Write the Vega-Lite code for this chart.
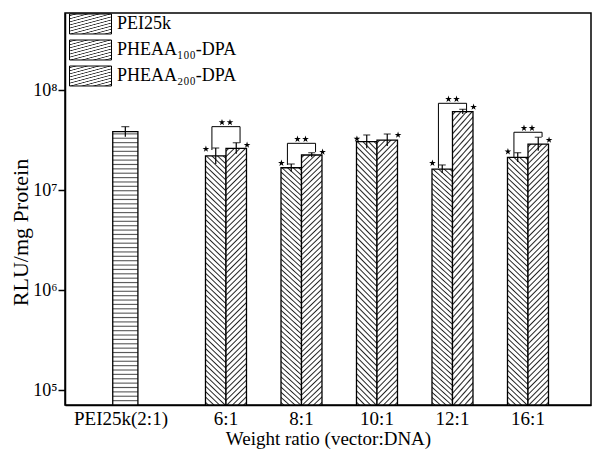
{
  "$schema": "https://vega.github.io/schema/vega-lite/v6.json",
  "width": 526,
  "height": 392,
  "autosize": "none",
  "padding": {"left": 65, "top": 13, "right": 1, "bottom": 46},
  "background": "white",
  "config": {
    "font": "Liberation Serif",
    "view": {"stroke": "black", "strokeWidth": 1.5},
    "axis": {"grid": false, "labelColor": "black", "titleColor": "black", "domainColor": "black", "domainWidth": 1.5, "tickColor": "black", "labelFont": "Liberation Serif", "titleFont": "Liberation Serif", "titleFontWeight": "normal"}
  },
  "resolve": {"scale": {"xOffset": "independent"}},
  "datasets": {
    "bars": [
      {"cat": "PEI25k(2:1)", "series": "PEI25k", "v": 38300000, "lo": 34100000, "hi": 43000000, "star": null},
      {"cat": "6:1", "series": "PHEAA₁₀₀-DPA", "v": 21900000, "lo": 18200000, "hi": 26300000, "star": 25700000},
      {"cat": "6:1", "series": "PHEAA₂₀₀-DPA", "v": 26100000, "lo": 23000000, "hi": 29700000, "star": 28200000},
      {"cat": "8:1", "series": "PHEAA₁₀₀-DPA", "v": 16700000, "lo": 15300000, "hi": 18200000, "star": 18600000},
      {"cat": "8:1", "series": "PHEAA₂₀₀-DPA", "v": 22400000, "lo": 21200000, "hi": 23600000, "star": 24000000},
      {"cat": "10:1", "series": "PHEAA₁₀₀-DPA", "v": 30400000, "lo": 26100000, "hi": 35500000, "star": 32400000},
      {"cat": "10:1", "series": "PHEAA₂₀₀-DPA", "v": 31600000, "lo": 27500000, "hi": 36300000, "star": 35500000},
      {"cat": "12:1", "series": "PHEAA₁₀₀-DPA", "v": 16200000, "lo": 14800000, "hi": 17800000, "star": 18600000},
      {"cat": "12:1", "series": "PHEAA₂₀₀-DPA", "v": 60700000, "lo": 57400000, "hi": 64100000, "star": 67600000},
      {"cat": "16:1", "series": "PHEAA₁₀₀-DPA", "v": 21200000, "lo": 19100000, "hi": 23600000, "star": 24200000},
      {"cat": "16:1", "series": "PHEAA₂₀₀-DPA", "v": 28800000, "lo": 24700000, "hi": 33700000, "star": 31600000}
    ],
    "brackets": [
      {"cat": "6:1", "series": "PHEAA₁₀₀-DPA", "y": 25100000, "ord": 1},
      {"cat": "6:1", "series": "PHEAA₁₀₀-DPA", "y": 43000000, "ord": 2},
      {"cat": "6:1", "series": "PHEAA₂₀₀-DPA", "y": 43000000, "ord": 3},
      {"cat": "6:1", "series": "PHEAA₂₀₀-DPA", "y": 29500000, "ord": 4},
      {"cat": "8:1", "series": "PHEAA₁₀₀-DPA", "y": 17800000, "ord": 1},
      {"cat": "8:1", "series": "PHEAA₁₀₀-DPA", "y": 29300000, "ord": 2},
      {"cat": "8:1", "series": "PHEAA₂₀₀-DPA", "y": 29300000, "ord": 3},
      {"cat": "8:1", "series": "PHEAA₂₀₀-DPA", "y": 24000000, "ord": 4},
      {"cat": "12:1", "series": "PHEAA₁₀₀-DPA", "y": 16600000, "ord": 1},
      {"cat": "12:1", "series": "PHEAA₁₀₀-DPA", "y": 73600000, "ord": 2},
      {"cat": "12:1", "series": "PHEAA₂₀₀-DPA", "y": 73600000, "ord": 3},
      {"cat": "12:1", "series": "PHEAA₂₀₀-DPA", "y": 58900000, "ord": 4},
      {"cat": "16:1", "series": "PHEAA₁₀₀-DPA", "y": 21400000, "ord": 1},
      {"cat": "16:1", "series": "PHEAA₁₀₀-DPA", "y": 37800000, "ord": 2},
      {"cat": "16:1", "series": "PHEAA₂₀₀-DPA", "y": 37800000, "ord": 3},
      {"cat": "16:1", "series": "PHEAA₂₀₀-DPA", "y": 33900000, "ord": 4}
    ],
    "sig": [
      {"cat": "6:1", "y": 43000000},
      {"cat": "8:1", "y": 29300000},
      {"cat": "12:1", "y": 73600000},
      {"cat": "16:1", "y": 37800000}
    ]
  },
  "encoding": {
    "x": {
      "field": "cat", "type": "nominal",
      "scale": {"domain": ["PEI25k(2:1)", "6:1", "8:1", "10:1", "12:1", "16:1"], "paddingInner": 0, "paddingOuter": 0.4834, "align": 0.654},
      "axis": {"title": "Weight ratio (vector:DNA)", "labelAngle": 0, "ticks": false, "labelFontSize": 19, "labelPadding": 4,
        "labelOffset": {"condition": {"test": "datum.value === 'PEI25k(2:1)'", "value": -29.5}, "value": 0},
        "titleFontSize": 19, "titleBaseline": "alphabetic", "titleY": 39}
    }
  },
  "layer": [
    {
      "data": {"name": "bars"},
      "transform": [{"filter": "datum.series === 'PEI25k'"}],
      "mark": {"type": "bar", "stroke": "black", "strokeWidth": 1.3,
        "fill": {"id": "hatchBarPEI", "gradient": "linear", "x1": 0.5, "y1": 0, "x2": 0.5, "y2": 1, "stops": [
{"offset":0.004,"color":"#fff"},{"offset":0.008,"color":"#555"},{"offset":0.012,"color":"#fff"},
{"offset":0.020,"color":"#fff"},{"offset":0.024,"color":"#555"},{"offset":0.028,"color":"#fff"},
{"offset":0.036,"color":"#fff"},{"offset":0.040,"color":"#555"},{"offset":0.044,"color":"#fff"},
{"offset":0.052,"color":"#fff"},{"offset":0.056,"color":"#555"},{"offset":0.060,"color":"#fff"},
{"offset":0.068,"color":"#fff"},{"offset":0.072,"color":"#555"},{"offset":0.076,"color":"#fff"},
{"offset":0.084,"color":"#fff"},{"offset":0.088,"color":"#555"},{"offset":0.092,"color":"#fff"},
{"offset":0.100,"color":"#fff"},{"offset":0.104,"color":"#555"},{"offset":0.108,"color":"#fff"},
{"offset":0.116,"color":"#fff"},{"offset":0.120,"color":"#555"},{"offset":0.124,"color":"#fff"},
{"offset":0.132,"color":"#fff"},{"offset":0.136,"color":"#555"},{"offset":0.140,"color":"#fff"},
{"offset":0.148,"color":"#fff"},{"offset":0.152,"color":"#555"},{"offset":0.156,"color":"#fff"},
{"offset":0.164,"color":"#fff"},{"offset":0.168,"color":"#555"},{"offset":0.172,"color":"#fff"},
{"offset":0.180,"color":"#fff"},{"offset":0.184,"color":"#555"},{"offset":0.188,"color":"#fff"},
{"offset":0.196,"color":"#fff"},{"offset":0.200,"color":"#555"},{"offset":0.204,"color":"#fff"},
{"offset":0.212,"color":"#fff"},{"offset":0.216,"color":"#555"},{"offset":0.220,"color":"#fff"},
{"offset":0.228,"color":"#fff"},{"offset":0.232,"color":"#555"},{"offset":0.236,"color":"#fff"},
{"offset":0.244,"color":"#fff"},{"offset":0.248,"color":"#555"},{"offset":0.252,"color":"#fff"},
{"offset":0.260,"color":"#fff"},{"offset":0.264,"color":"#555"},{"offset":0.268,"color":"#fff"},
{"offset":0.276,"color":"#fff"},{"offset":0.280,"color":"#555"},{"offset":0.284,"color":"#fff"},
{"offset":0.292,"color":"#fff"},{"offset":0.296,"color":"#555"},{"offset":0.300,"color":"#fff"},
{"offset":0.308,"color":"#fff"},{"offset":0.312,"color":"#555"},{"offset":0.316,"color":"#fff"},
{"offset":0.324,"color":"#fff"},{"offset":0.328,"color":"#555"},{"offset":0.332,"color":"#fff"},
{"offset":0.340,"color":"#fff"},{"offset":0.344,"color":"#555"},{"offset":0.348,"color":"#fff"},
{"offset":0.356,"color":"#fff"},{"offset":0.360,"color":"#555"},{"offset":0.364,"color":"#fff"},
{"offset":0.372,"color":"#fff"},{"offset":0.376,"color":"#555"},{"offset":0.380,"color":"#fff"},
{"offset":0.388,"color":"#fff"},{"offset":0.392,"color":"#555"},{"offset":0.396,"color":"#fff"},
{"offset":0.404,"color":"#fff"},{"offset":0.408,"color":"#555"},{"offset":0.412,"color":"#fff"},
{"offset":0.420,"color":"#fff"},{"offset":0.424,"color":"#555"},{"offset":0.428,"color":"#fff"},
{"offset":0.436,"color":"#fff"},{"offset":0.440,"color":"#555"},{"offset":0.444,"color":"#fff"},
{"offset":0.452,"color":"#fff"},{"offset":0.456,"color":"#555"},{"offset":0.460,"color":"#fff"},
{"offset":0.468,"color":"#fff"},{"offset":0.472,"color":"#555"},{"offset":0.476,"color":"#fff"},
{"offset":0.484,"color":"#fff"},{"offset":0.488,"color":"#555"},{"offset":0.492,"color":"#fff"},
{"offset":0.500,"color":"#fff"},{"offset":0.504,"color":"#555"},{"offset":0.508,"color":"#fff"},
{"offset":0.516,"color":"#fff"},{"offset":0.520,"color":"#555"},{"offset":0.524,"color":"#fff"},
{"offset":0.532,"color":"#fff"},{"offset":0.536,"color":"#555"},{"offset":0.540,"color":"#fff"},
{"offset":0.548,"color":"#fff"},{"offset":0.552,"color":"#555"},{"offset":0.556,"color":"#fff"},
{"offset":0.564,"color":"#fff"},{"offset":0.568,"color":"#555"},{"offset":0.572,"color":"#fff"},
{"offset":0.580,"color":"#fff"},{"offset":0.584,"color":"#555"},{"offset":0.588,"color":"#fff"},
{"offset":0.596,"color":"#fff"},{"offset":0.600,"color":"#555"},{"offset":0.604,"color":"#fff"},
{"offset":0.612,"color":"#fff"},{"offset":0.616,"color":"#555"},{"offset":0.620,"color":"#fff"},
{"offset":0.628,"color":"#fff"},{"offset":0.632,"color":"#555"},{"offset":0.636,"color":"#fff"},
{"offset":0.644,"color":"#fff"},{"offset":0.648,"color":"#555"},{"offset":0.652,"color":"#fff"},
{"offset":0.660,"color":"#fff"},{"offset":0.664,"color":"#555"},{"offset":0.668,"color":"#fff"},
{"offset":0.676,"color":"#fff"},{"offset":0.680,"color":"#555"},{"offset":0.684,"color":"#fff"},
{"offset":0.692,"color":"#fff"},{"offset":0.696,"color":"#555"},{"offset":0.700,"color":"#fff"},
{"offset":0.708,"color":"#fff"},{"offset":0.712,"color":"#555"},{"offset":0.716,"color":"#fff"},
{"offset":0.724,"color":"#fff"},{"offset":0.728,"color":"#555"},{"offset":0.732,"color":"#fff"},
{"offset":0.740,"color":"#fff"},{"offset":0.744,"color":"#555"},{"offset":0.748,"color":"#fff"},
{"offset":0.756,"color":"#fff"},{"offset":0.760,"color":"#555"},{"offset":0.764,"color":"#fff"},
{"offset":0.772,"color":"#fff"},{"offset":0.776,"color":"#555"},{"offset":0.780,"color":"#fff"},
{"offset":0.788,"color":"#fff"},{"offset":0.792,"color":"#555"},{"offset":0.796,"color":"#fff"},
{"offset":0.804,"color":"#fff"},{"offset":0.808,"color":"#555"},{"offset":0.812,"color":"#fff"},
{"offset":0.820,"color":"#fff"},{"offset":0.824,"color":"#555"},{"offset":0.828,"color":"#fff"},
{"offset":0.836,"color":"#fff"},{"offset":0.840,"color":"#555"},{"offset":0.844,"color":"#fff"},
{"offset":0.852,"color":"#fff"},{"offset":0.856,"color":"#555"},{"offset":0.860,"color":"#fff"},
{"offset":0.868,"color":"#fff"},{"offset":0.872,"color":"#555"},{"offset":0.876,"color":"#fff"},
{"offset":0.884,"color":"#fff"},{"offset":0.888,"color":"#555"},{"offset":0.892,"color":"#fff"},
{"offset":0.900,"color":"#fff"},{"offset":0.904,"color":"#555"},{"offset":0.908,"color":"#fff"},
{"offset":0.916,"color":"#fff"},{"offset":0.920,"color":"#555"},{"offset":0.924,"color":"#fff"},
{"offset":0.932,"color":"#fff"},{"offset":0.936,"color":"#555"},{"offset":0.940,"color":"#fff"},
{"offset":0.948,"color":"#fff"},{"offset":0.952,"color":"#555"},{"offset":0.956,"color":"#fff"},
{"offset":0.964,"color":"#fff"},{"offset":0.968,"color":"#555"},{"offset":0.972,"color":"#fff"},
{"offset":0.980,"color":"#fff"},{"offset":0.984,"color":"#555"},{"offset":0.988,"color":"#fff"}
        ]}},
      "encoding": {
        "xOffset": {"field": "series", "type": "nominal", "scale": {"domain": ["PEI25k"], "paddingInner": 0, "paddingOuter": 1.3875, "align": 0}},
        "y": {"field": "v", "type": "quantitative", "stack": null,
          "scale": {"type": "log", "domain": [70795, 588843655], "nice": false},
          "axis": {"title": "RLU/mg Protein", "values": [100000, 1000000, 10000000, 100000000],
            "labelExpr": "datum.value == 100000 ? '10⁵' : datum.value == 1000000 ? '10⁶' : datum.value == 10000000 ? '10⁷' : '10⁸'",
            "tickSize": 7, "tickWidth": 1.5, "labelFontSize": 18, "labelPadding": 1,
            "titleFontSize": 22, "titleBaseline": "alphabetic", "titleX": -38, "titleY": 219}}
      }
    },
    {
      "data": {"name": "bars"},
      "transform": [{"filter": "datum.series === 'PEI25k'"}],
      "mark": {"type": "rule", "color": "black", "strokeWidth": 1.2},
      "encoding": {
        "xOffset": {"field": "series", "type": "nominal", "scale": {"domain": ["PEI25k"], "paddingInner": 0, "paddingOuter": 1.3875, "align": 0}},
        "y": {"field": "lo", "type": "quantitative", "title": "RLU/mg Protein", "scale": {"type": "log", "domain": [70795, 588843655], "nice": false}},
        "y2": {"field": "hi"}
      }
    },
    {
      "data": {"name": "bars"},
      "transform": [{"filter": "datum.series === 'PEI25k'"}],
      "mark": {"type": "tick", "color": "black", "thickness": 1.2, "size": 8},
      "encoding": {
        "xOffset": {"field": "series", "type": "nominal", "scale": {"domain": ["PEI25k"], "paddingInner": 0, "paddingOuter": 1.3875, "align": 0}},
        "y": {"field": "hi", "type": "quantitative", "title": "RLU/mg Protein", "scale": {"type": "log", "domain": [70795, 588843655], "nice": false}}
      }
    },
    {
      "data": {"name": "bars"},
      "transform": [{"filter": "datum.series !== 'PEI25k'"}],
      "mark": {"type": "bar", "strokeWidth": 1.3},
      "encoding": {
        "xOffset": {"field": "series", "type": "nominal", "scale": {"domain": ["PHEAA₁₀₀-DPA", "PHEAA₂₀₀-DPA"], "paddingInner": 0, "paddingOuter": 0.8415}},
        "y": {"field": "v", "type": "quantitative", "title": "RLU/mg Protein", "stack": null, "scale": {"type": "log", "domain": [70795, 588843655], "nice": false}},
        "stroke": {"field": "series", "type": "nominal",
          "scale": {"domain": ["PEI25k", "PHEAA₁₀₀-DPA", "PHEAA₂₀₀-DPA"], "range": ["black", "black", "black"]},
          "legend": {"title": null, "orient": "none", "legendX": 4, "legendY": 0, "padding": 0,
            "symbolType": "M-1,-0.95H3V0.95H-1Z", "symbolSize": 441, "symbolStrokeColor": "black", "symbolStrokeWidth": 1,
            "labelFont": "Liberation Serif", "labelFontSize": 18, "labelColor": "black", "labelOffset": 26, "rowPadding": 2, "labelLimit": 300,
            "encode": {"symbols": {"update": {
              "stroke": {"value": "black"}, "strokeWidth": {"value": 1}, "fill": {"value": "#ffffff"},
              "shape": [
                {"test": "datum.value === 'PEI25k'", "value": "M-1,-0.95H3V0.95H-1ZM-1,-0.57H3M-1,-0.19H3M-1,0.19H3M-1,0.57H3"},
                {"test": "datum.value === 'PHEAA₁₀₀-DPA'", "value": "M-1,-0.95H3V0.95H-1ZM-1,0.5L-0.55,0.95M-1,0L-0.05,0.95M-1,-0.5L0.45,0.95M-0.95,-0.95L0.95,0.95M-0.45,-0.95L1.45,0.95M0.05,-0.95L1.95,0.95M0.55,-0.95L2.45,0.95M1.05,-0.95L2.95,0.95M1.55,-0.95L3,0.5M2.05,-0.95L3,0M2.55,-0.95L3,-0.5"},
                {"value": "M-1,-0.95H3V0.95H-1ZM-0.55,-0.95L-1,-0.5M-0.05,-0.95L-1,0M0.45,-0.95L-1,0.5M0.95,-0.95L-0.95,0.95M1.45,-0.95L-0.45,0.95M1.95,-0.95L0.05,0.95M2.45,-0.95L0.55,0.95M2.95,-0.95L1.05,0.95M3,-0.5L1.55,0.95M3,0L2.05,0.95M3,0.5L2.55,0.95"}
              ]
            }}}}},
        "fill": {"condition": [{"test": "datum.series === 'PHEAA₁₀₀-DPA'", "value":
            {"id": "hatchBar100", "gradient": "linear", "x1": 0, "y1": 1, "x2": 0.0845, "y2": -0.0722, "stops": [
{"offset":0.005,"color":"#fff"},{"offset":0.01,"color":"#222"},{"offset":0.015,"color":"#fff"},
{"offset":0.025,"color":"#fff"},{"offset":0.03,"color":"#222"},{"offset":0.035,"color":"#fff"},
{"offset":0.045,"color":"#fff"},{"offset":0.05,"color":"#222"},{"offset":0.055,"color":"#fff"},
{"offset":0.065,"color":"#fff"},{"offset":0.07,"color":"#222"},{"offset":0.075,"color":"#fff"},
{"offset":0.085,"color":"#fff"},{"offset":0.09,"color":"#222"},{"offset":0.095,"color":"#fff"},
{"offset":0.105,"color":"#fff"},{"offset":0.11,"color":"#222"},{"offset":0.115,"color":"#fff"},
{"offset":0.125,"color":"#fff"},{"offset":0.13,"color":"#222"},{"offset":0.135,"color":"#fff"},
{"offset":0.145,"color":"#fff"},{"offset":0.15,"color":"#222"},{"offset":0.155,"color":"#fff"},
{"offset":0.165,"color":"#fff"},{"offset":0.17,"color":"#222"},{"offset":0.175,"color":"#fff"},
{"offset":0.185,"color":"#fff"},{"offset":0.19,"color":"#222"},{"offset":0.195,"color":"#fff"},
{"offset":0.205,"color":"#fff"},{"offset":0.21,"color":"#222"},{"offset":0.215,"color":"#fff"},
{"offset":0.225,"color":"#fff"},{"offset":0.23,"color":"#222"},{"offset":0.235,"color":"#fff"},
{"offset":0.245,"color":"#fff"},{"offset":0.25,"color":"#222"},{"offset":0.255,"color":"#fff"},
{"offset":0.265,"color":"#fff"},{"offset":0.27,"color":"#222"},{"offset":0.275,"color":"#fff"},
{"offset":0.285,"color":"#fff"},{"offset":0.29,"color":"#222"},{"offset":0.295,"color":"#fff"},
{"offset":0.305,"color":"#fff"},{"offset":0.31,"color":"#222"},{"offset":0.315,"color":"#fff"},
{"offset":0.325,"color":"#fff"},{"offset":0.33,"color":"#222"},{"offset":0.335,"color":"#fff"},
{"offset":0.345,"color":"#fff"},{"offset":0.35,"color":"#222"},{"offset":0.355,"color":"#fff"},
{"offset":0.365,"color":"#fff"},{"offset":0.37,"color":"#222"},{"offset":0.375,"color":"#fff"},
{"offset":0.385,"color":"#fff"},{"offset":0.39,"color":"#222"},{"offset":0.395,"color":"#fff"},
{"offset":0.405,"color":"#fff"},{"offset":0.41,"color":"#222"},{"offset":0.415,"color":"#fff"},
{"offset":0.425,"color":"#fff"},{"offset":0.43,"color":"#222"},{"offset":0.435,"color":"#fff"},
{"offset":0.445,"color":"#fff"},{"offset":0.45,"color":"#222"},{"offset":0.455,"color":"#fff"},
{"offset":0.465,"color":"#fff"},{"offset":0.47,"color":"#222"},{"offset":0.475,"color":"#fff"},
{"offset":0.485,"color":"#fff"},{"offset":0.49,"color":"#222"},{"offset":0.495,"color":"#fff"},
{"offset":0.505,"color":"#fff"},{"offset":0.51,"color":"#222"},{"offset":0.515,"color":"#fff"},
{"offset":0.525,"color":"#fff"},{"offset":0.53,"color":"#222"},{"offset":0.535,"color":"#fff"},
{"offset":0.545,"color":"#fff"},{"offset":0.55,"color":"#222"},{"offset":0.555,"color":"#fff"},
{"offset":0.565,"color":"#fff"},{"offset":0.57,"color":"#222"},{"offset":0.575,"color":"#fff"},
{"offset":0.585,"color":"#fff"},{"offset":0.59,"color":"#222"},{"offset":0.595,"color":"#fff"},
{"offset":0.605,"color":"#fff"},{"offset":0.61,"color":"#222"},{"offset":0.615,"color":"#fff"},
{"offset":0.625,"color":"#fff"},{"offset":0.63,"color":"#222"},{"offset":0.635,"color":"#fff"},
{"offset":0.645,"color":"#fff"},{"offset":0.65,"color":"#222"},{"offset":0.655,"color":"#fff"},
{"offset":0.665,"color":"#fff"},{"offset":0.67,"color":"#222"},{"offset":0.675,"color":"#fff"},
{"offset":0.685,"color":"#fff"},{"offset":0.69,"color":"#222"},{"offset":0.695,"color":"#fff"},
{"offset":0.705,"color":"#fff"},{"offset":0.71,"color":"#222"},{"offset":0.715,"color":"#fff"},
{"offset":0.725,"color":"#fff"},{"offset":0.73,"color":"#222"},{"offset":0.735,"color":"#fff"},
{"offset":0.745,"color":"#fff"},{"offset":0.75,"color":"#222"},{"offset":0.755,"color":"#fff"},
{"offset":0.765,"color":"#fff"},{"offset":0.77,"color":"#222"},{"offset":0.775,"color":"#fff"},
{"offset":0.785,"color":"#fff"},{"offset":0.79,"color":"#222"},{"offset":0.795,"color":"#fff"},
{"offset":0.805,"color":"#fff"},{"offset":0.81,"color":"#222"},{"offset":0.815,"color":"#fff"},
{"offset":0.825,"color":"#fff"},{"offset":0.83,"color":"#222"},{"offset":0.835,"color":"#fff"},
{"offset":0.845,"color":"#fff"},{"offset":0.85,"color":"#222"},{"offset":0.855,"color":"#fff"},
{"offset":0.865,"color":"#fff"},{"offset":0.87,"color":"#222"},{"offset":0.875,"color":"#fff"},
{"offset":0.885,"color":"#fff"},{"offset":0.89,"color":"#222"},{"offset":0.895,"color":"#fff"},
{"offset":0.905,"color":"#fff"},{"offset":0.91,"color":"#222"},{"offset":0.915,"color":"#fff"},
{"offset":0.925,"color":"#fff"},{"offset":0.93,"color":"#222"},{"offset":0.935,"color":"#fff"},
{"offset":0.945,"color":"#fff"},{"offset":0.95,"color":"#222"},{"offset":0.955,"color":"#fff"},
{"offset":0.965,"color":"#fff"},{"offset":0.97,"color":"#222"},{"offset":0.975,"color":"#fff"},
{"offset":0.985,"color":"#fff"},{"offset":0.99,"color":"#222"},{"offset":0.995,"color":"#fff"}
            ]}}],
          "value": {"id": "hatchBar200", "gradient": "linear", "x1": 0, "y1": 0, "x2": 0.0845, "y2": 1.0722, "stops": [
{"offset":0.005,"color":"#fff"},{"offset":0.01,"color":"#222"},{"offset":0.015,"color":"#fff"},
{"offset":0.025,"color":"#fff"},{"offset":0.03,"color":"#222"},{"offset":0.035,"color":"#fff"},
{"offset":0.045,"color":"#fff"},{"offset":0.05,"color":"#222"},{"offset":0.055,"color":"#fff"},
{"offset":0.065,"color":"#fff"},{"offset":0.07,"color":"#222"},{"offset":0.075,"color":"#fff"},
{"offset":0.085,"color":"#fff"},{"offset":0.09,"color":"#222"},{"offset":0.095,"color":"#fff"},
{"offset":0.105,"color":"#fff"},{"offset":0.11,"color":"#222"},{"offset":0.115,"color":"#fff"},
{"offset":0.125,"color":"#fff"},{"offset":0.13,"color":"#222"},{"offset":0.135,"color":"#fff"},
{"offset":0.145,"color":"#fff"},{"offset":0.15,"color":"#222"},{"offset":0.155,"color":"#fff"},
{"offset":0.165,"color":"#fff"},{"offset":0.17,"color":"#222"},{"offset":0.175,"color":"#fff"},
{"offset":0.185,"color":"#fff"},{"offset":0.19,"color":"#222"},{"offset":0.195,"color":"#fff"},
{"offset":0.205,"color":"#fff"},{"offset":0.21,"color":"#222"},{"offset":0.215,"color":"#fff"},
{"offset":0.225,"color":"#fff"},{"offset":0.23,"color":"#222"},{"offset":0.235,"color":"#fff"},
{"offset":0.245,"color":"#fff"},{"offset":0.25,"color":"#222"},{"offset":0.255,"color":"#fff"},
{"offset":0.265,"color":"#fff"},{"offset":0.27,"color":"#222"},{"offset":0.275,"color":"#fff"},
{"offset":0.285,"color":"#fff"},{"offset":0.29,"color":"#222"},{"offset":0.295,"color":"#fff"},
{"offset":0.305,"color":"#fff"},{"offset":0.31,"color":"#222"},{"offset":0.315,"color":"#fff"},
{"offset":0.325,"color":"#fff"},{"offset":0.33,"color":"#222"},{"offset":0.335,"color":"#fff"},
{"offset":0.345,"color":"#fff"},{"offset":0.35,"color":"#222"},{"offset":0.355,"color":"#fff"},
{"offset":0.365,"color":"#fff"},{"offset":0.37,"color":"#222"},{"offset":0.375,"color":"#fff"},
{"offset":0.385,"color":"#fff"},{"offset":0.39,"color":"#222"},{"offset":0.395,"color":"#fff"},
{"offset":0.405,"color":"#fff"},{"offset":0.41,"color":"#222"},{"offset":0.415,"color":"#fff"},
{"offset":0.425,"color":"#fff"},{"offset":0.43,"color":"#222"},{"offset":0.435,"color":"#fff"},
{"offset":0.445,"color":"#fff"},{"offset":0.45,"color":"#222"},{"offset":0.455,"color":"#fff"},
{"offset":0.465,"color":"#fff"},{"offset":0.47,"color":"#222"},{"offset":0.475,"color":"#fff"},
{"offset":0.485,"color":"#fff"},{"offset":0.49,"color":"#222"},{"offset":0.495,"color":"#fff"},
{"offset":0.505,"color":"#fff"},{"offset":0.51,"color":"#222"},{"offset":0.515,"color":"#fff"},
{"offset":0.525,"color":"#fff"},{"offset":0.53,"color":"#222"},{"offset":0.535,"color":"#fff"},
{"offset":0.545,"color":"#fff"},{"offset":0.55,"color":"#222"},{"offset":0.555,"color":"#fff"},
{"offset":0.565,"color":"#fff"},{"offset":0.57,"color":"#222"},{"offset":0.575,"color":"#fff"},
{"offset":0.585,"color":"#fff"},{"offset":0.59,"color":"#222"},{"offset":0.595,"color":"#fff"},
{"offset":0.605,"color":"#fff"},{"offset":0.61,"color":"#222"},{"offset":0.615,"color":"#fff"},
{"offset":0.625,"color":"#fff"},{"offset":0.63,"color":"#222"},{"offset":0.635,"color":"#fff"},
{"offset":0.645,"color":"#fff"},{"offset":0.65,"color":"#222"},{"offset":0.655,"color":"#fff"},
{"offset":0.665,"color":"#fff"},{"offset":0.67,"color":"#222"},{"offset":0.675,"color":"#fff"},
{"offset":0.685,"color":"#fff"},{"offset":0.69,"color":"#222"},{"offset":0.695,"color":"#fff"},
{"offset":0.705,"color":"#fff"},{"offset":0.71,"color":"#222"},{"offset":0.715,"color":"#fff"},
{"offset":0.725,"color":"#fff"},{"offset":0.73,"color":"#222"},{"offset":0.735,"color":"#fff"},
{"offset":0.745,"color":"#fff"},{"offset":0.75,"color":"#222"},{"offset":0.755,"color":"#fff"},
{"offset":0.765,"color":"#fff"},{"offset":0.77,"color":"#222"},{"offset":0.775,"color":"#fff"},
{"offset":0.785,"color":"#fff"},{"offset":0.79,"color":"#222"},{"offset":0.795,"color":"#fff"},
{"offset":0.805,"color":"#fff"},{"offset":0.81,"color":"#222"},{"offset":0.815,"color":"#fff"},
{"offset":0.825,"color":"#fff"},{"offset":0.83,"color":"#222"},{"offset":0.835,"color":"#fff"},
{"offset":0.845,"color":"#fff"},{"offset":0.85,"color":"#222"},{"offset":0.855,"color":"#fff"},
{"offset":0.865,"color":"#fff"},{"offset":0.87,"color":"#222"},{"offset":0.875,"color":"#fff"},
{"offset":0.885,"color":"#fff"},{"offset":0.89,"color":"#222"},{"offset":0.895,"color":"#fff"},
{"offset":0.905,"color":"#fff"},{"offset":0.91,"color":"#222"},{"offset":0.915,"color":"#fff"},
{"offset":0.925,"color":"#fff"},{"offset":0.93,"color":"#222"},{"offset":0.935,"color":"#fff"},
{"offset":0.945,"color":"#fff"},{"offset":0.95,"color":"#222"},{"offset":0.955,"color":"#fff"},
{"offset":0.965,"color":"#fff"},{"offset":0.97,"color":"#222"},{"offset":0.975,"color":"#fff"},
{"offset":0.985,"color":"#fff"},{"offset":0.99,"color":"#222"},{"offset":0.995,"color":"#fff"}
          ]}}
      }
    },
    {
      "data": {"name": "bars"},
      "transform": [{"filter": "datum.series !== 'PEI25k'"}],
      "mark": {"type": "rule", "color": "black", "strokeWidth": 1.2},
      "encoding": {
        "xOffset": {"field": "series", "type": "nominal", "scale": {"domain": ["PHEAA₁₀₀-DPA", "PHEAA₂₀₀-DPA"], "paddingInner": 0, "paddingOuter": 0.8415}},
        "y": {"field": "lo", "type": "quantitative", "title": "RLU/mg Protein", "scale": {"type": "log", "domain": [70795, 588843655], "nice": false}},
        "y2": {"field": "hi"}
      }
    },
    {
      "data": {"name": "bars"},
      "transform": [{"filter": "datum.series !== 'PEI25k'"}],
      "mark": {"type": "tick", "color": "black", "thickness": 1.2, "size": 7},
      "encoding": {
        "xOffset": {"field": "series", "type": "nominal", "scale": {"domain": ["PHEAA₁₀₀-DPA", "PHEAA₂₀₀-DPA"], "paddingInner": 0, "paddingOuter": 0.8415}},
        "y": {"field": "hi", "type": "quantitative", "title": "RLU/mg Protein", "scale": {"type": "log", "domain": [70795, 588843655], "nice": false}}
      }
    },
    {
      "data": {"name": "bars"},
      "transform": [{"filter": "datum.series === 'PHEAA₁₀₀-DPA'"}],
      "mark": {"type": "point", "filled": true, "color": "black", "opacity": 1, "size": 49,
        "shape": "M-1.714,-1L-1.489,-0.309L-0.763,-0.309L-1.351,0.118L-1.126,0.809L-1.714,0.382L-2.302,0.809L-2.077,0.118L-2.665,-0.309L-1.939,-0.309Z"},
      "encoding": {
        "xOffset": {"field": "series", "type": "nominal", "scale": {"domain": ["PHEAA₁₀₀-DPA", "PHEAA₂₀₀-DPA"], "paddingInner": 0, "paddingOuter": 0.8415}},
        "y": {"field": "star", "type": "quantitative", "title": "RLU/mg Protein", "scale": {"type": "log", "domain": [70795, 588843655], "nice": false}}
      }
    },
    {
      "data": {"name": "bars"},
      "transform": [{"filter": "datum.series === 'PHEAA₂₀₀-DPA'"}],
      "mark": {"type": "point", "filled": true, "color": "black", "opacity": 1, "size": 49,
        "shape": "M2,-1L2.225,-0.309L2.951,-0.309L2.363,0.118L2.588,0.809L2,0.382L1.412,0.809L1.637,0.118L1.049,-0.309L1.775,-0.309Z"},
      "encoding": {
        "xOffset": {"field": "series", "type": "nominal", "scale": {"domain": ["PHEAA₁₀₀-DPA", "PHEAA₂₀₀-DPA"], "paddingInner": 0, "paddingOuter": 0.8415}},
        "y": {"field": "star", "type": "quantitative", "title": "RLU/mg Protein", "scale": {"type": "log", "domain": [70795, 588843655], "nice": false}}
      }
    },
    {
      "data": {"name": "brackets"},
      "mark": {"type": "line", "color": "black", "strokeWidth": 1},
      "encoding": {
        "xOffset": {"field": "series", "type": "nominal", "scale": {"domain": ["PHEAA₁₀₀-DPA", "PHEAA₂₀₀-DPA"], "paddingInner": 0, "paddingOuter": 0.8415}},
        "y": {"field": "y", "type": "quantitative", "title": "RLU/mg Protein", "scale": {"type": "log", "domain": [70795, 588843655], "nice": false}},
        "detail": {"field": "cat"},
        "order": {"field": "ord", "type": "quantitative"}
      }
    },
    {
      "data": {"name": "sig"},
      "mark": {"type": "point", "filled": true, "color": "black", "opacity": 1, "size": 49,
        "shape": "M-1.143,-2.2L-0.918,-1.509L-0.192,-1.509L-0.78,-1.082L-0.555,-0.391L-1.143,-0.818L-1.731,-0.391L-1.506,-1.082L-2.094,-1.509L-1.368,-1.509ZM1.143,-2.2L1.368,-1.509L2.094,-1.509L1.506,-1.082L1.731,-0.391L1.143,-0.818L0.555,-0.391L0.78,-1.082L0.192,-1.509L0.918,-1.509Z"},
      "encoding": {
        "y": {"field": "y", "type": "quantitative", "title": "RLU/mg Protein", "scale": {"type": "log", "domain": [70795, 588843655], "nice": false}}
      }
    }
  ]
}
